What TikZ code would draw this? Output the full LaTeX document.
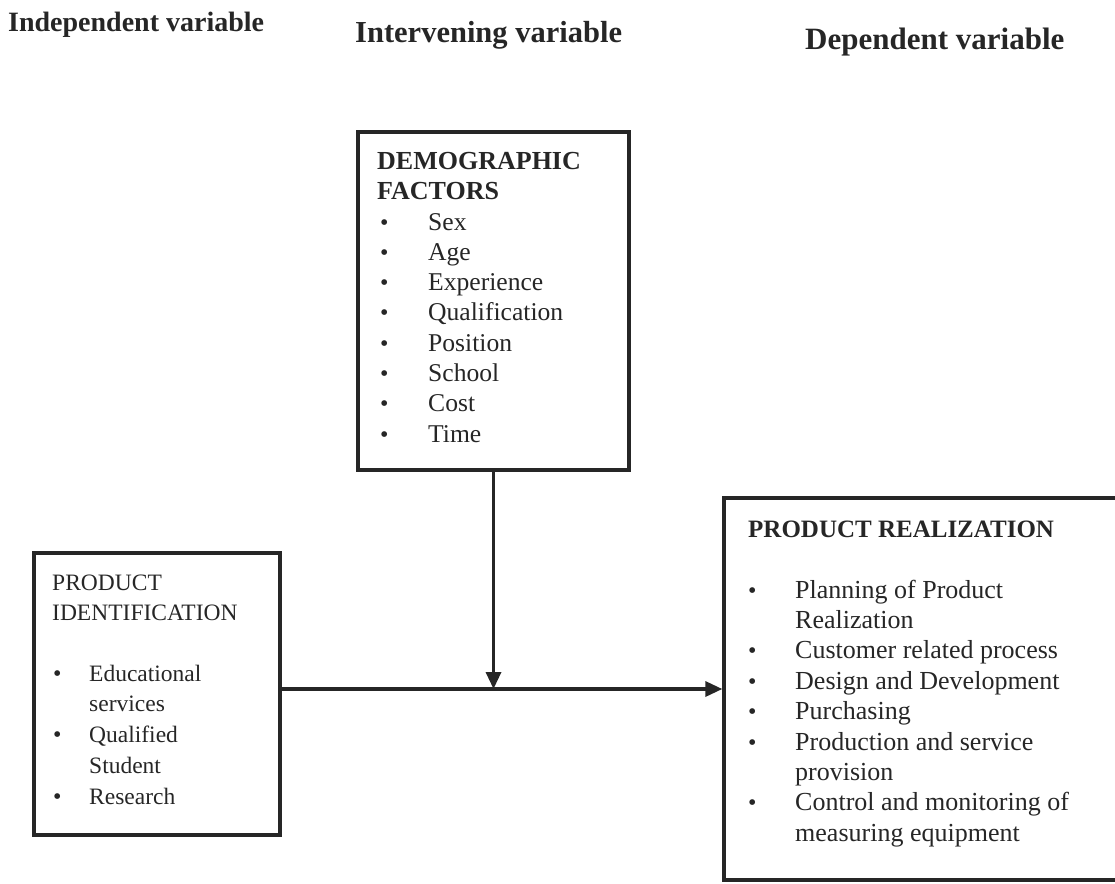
\documentclass[tikz,border=0pt]{standalone}
\usepackage{fontspec}
\setmainfont{Liberation Serif}
\usetikzlibrary{arrows.meta}
\definecolor{ink}{HTML}{262626}
\begin{document}
\begin{tikzpicture}[x=1pt,y=-1pt,
  box/.style={draw=ink, line width=3.3pt, rectangle, inner sep=0pt},
  conn/.style={draw=ink, line width=3.3pt, -{Triangle[length=17pt,width=15pt]}},
  txt/.style={anchor=base west, inner sep=0pt, text=ink},
  head/.style={txt, font=\bfseries\fontsize{30}{34}\selectfont},
  ltxt/.style={txt, font=\fontsize{23.5}{28}\selectfont},
  mtxt/.style={txt, font=\fontsize{25.6}{30}\selectfont},
  mhead/.style={txt, font=\bfseries\fontsize{26}{30}\selectfont},
  rtxt/.style={txt, font=\fontsize{26}{30}\selectfont},
  rhead/.style={txt, font=\bfseries\fontsize{25}{30}\selectfont},
  bul/.style={anchor=base west, inner sep=0pt, text=ink, font=\fontsize{24}{28}\selectfont}]
\useasboundingbox (0,0) rectangle (1115,883);

% column headings
\node[head, font=\bfseries\fontsize{28}{32}\selectfont] (h1) at (8,32) {Independent variable};
\node[head, font=\bfseries\fontsize{30.5}{34}\selectfont] (h2) at (355,42) {Intervening variable};
\node[head, font=\bfseries\fontsize{31}{34}\selectfont] (h3) at (805,50) {Dependent variable};

% boxes
\node[box, minimum width=246pt, minimum height=282pt] (idbox) at (157,694) {};
\node[box, minimum width=271pt, minimum height=338pt] (mid) at (493.5,301) {};
\node[box, minimum width=406pt, minimum height=382pt] (rbox) at (927,689) {};

% left box text
\node[ltxt] (lh1) at (52,590) {PRODUCT};
\node[ltxt] (lh2) at (52,620) {IDENTIFICATION};
\foreach \t/\b [count=\i] in {Educational/1, services/0, Qualified/1, Student/0, Research/1}{
  \ifnum\b=1 \node[bul] (lb\i) at (53,681+30.75*\i-30.75) {•};\fi
  \node[ltxt] (lt\i) at (89,681+30.75*\i-30.75) {\t};
}

% middle box text
\node[mhead] (mh1) at (377,169) {DEMOGRAPHIC};
\node[mhead] (mh2) at (377,199) {FACTORS};
\foreach \t [count=\i] in {Sex,Age,Experience,Qualification,Position,School,Cost,Time}{
  \node[bul] (mb\i) at (380,230+30.3*\i-30.3) {•};
  \node[mtxt] (mt\i) at (428,230+30.3*\i-30.3) {\t};
}

% right box text
\node[rhead] (rh) at (748,537) {PRODUCT REALIZATION};
\foreach \t/\b [count=\i] in {Planning of Product/1, Realization/0, Customer related process/1,
  Design and Development/1, Purchasing/1, Production and service/1, provision/0,
  Control and monitoring of/1, measuring equipment/0}{
  \ifnum\b=1 \node[bul] (rb\i) at (748,598+30.4*\i-30.4) {•};\fi
  \node[rtxt] (rt\i) at (795,598+30.4*\i-30.4) {\t};
}

% connectors
\coordinate (j) at (mid.south |- rbox.west);
\draw[conn] (idbox.east |- rbox.west) -- (rbox.west);
\draw[conn] (mid.south) -- (j);
\end{tikzpicture}
\end{document}
